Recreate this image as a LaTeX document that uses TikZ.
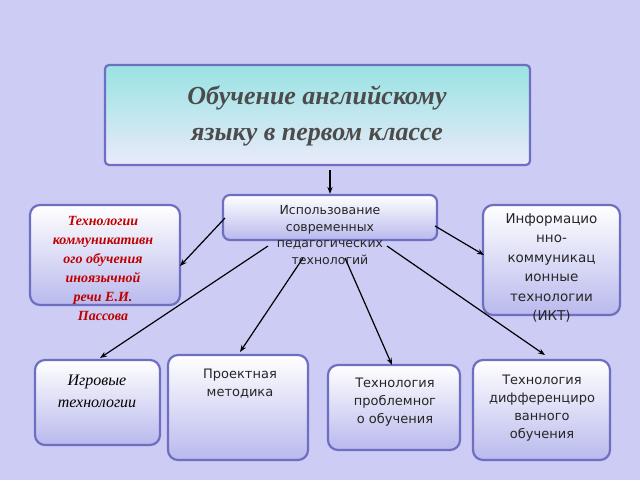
\documentclass[tikz,border=0pt]{standalone}
\usepackage{fontspec}
\setsansfont{DejaVu Sans}
\setmainfont{Liberation Serif}
\usetikzlibrary{arrows.meta}
\definecolor{bg}{HTML}{CCCCF5}
\definecolor{bd}{HTML}{6F6FC2}
\definecolor{lav}{HTML}{B9B9EE}
\tikzset{x=1pt,y=-1pt,
box/.style={draw=bd,line width=2.2pt,rounded corners=10pt,top color=white,bottom color=lav},
sans/.style={font=\sffamily\fontsize{13}{18}\selectfont,align=center,text=black!85},
arr/.style={-{Stealth[length=7pt]},line width=1.2pt}}
\begin{document}
\begin{tikzpicture}
\fill[bg] (0,0) rectangle (640,480);
\useasboundingbox (0,0) rectangle (640,480);
\node[draw=bd,line width=2.2pt,rounded corners=4pt,top color=teal!55!cyan!40,bottom color=white!70!lav,minimum width=425pt,minimum height=100pt] (t) at (317.5,115) {};
\node[font=\bfseries\itshape\fontsize{26}{36}\selectfont,align=center,text=black!70] at (317,116) {Обучение английскому\\языку в первом классе};
\node[box,rounded corners=7pt,minimum width=214pt,minimum height=45pt] (c) at (330,217.5) {};
\node[sans,font=\sffamily\fontsize{12.5}{16.5}\selectfont] at (330,235) {Использование\\современных\\педагогических\\технологий};
\node[box,minimum width=150pt,minimum height=100pt] (l) at (105,255) {};
\node[font=\itshape\bfseries\fontsize{14}{19}\selectfont,align=center,text=red!75!black] at (103,268) {Технологии\\коммуникативн\\ого обучения\\иноязычной\\речи Е.И.\\Пассова};
\node[box,minimum width=137pt,minimum height=110pt] (r) at (551.5,260) {};
\node[sans,font=\sffamily\fontsize{13.5}{19.5}\selectfont] at (551.5,268) {Информацио\\нно-\\коммуникац\\ионные\\технологии\\(ИКТ)};
\node[box,minimum width=125pt,minimum height=85pt] (b1) at (97.5,402.5) {};
\node[font=\itshape\fontsize{16}{22}\selectfont,align=center] at (97,391) {Игровые\\технологии};
\node[box,minimum width=140pt,minimum height=105pt] (b2) at (238,407.5) {};
\node[sans] at (240,384) {Проектная\\методика};
\node[box,minimum width=132pt,minimum height=85pt] (b3) at (394,407.5) {};
\node[sans] at (395,402) {Технология\\проблемног\\о обучения};
\node[box,minimum width=137pt,minimum height=100pt] (b4) at (541.5,410) {};
\node[sans] at (542,408) {Технология\\дифференциро\\ванного\\обучения};
\coordinate (c1) at (330,170);
\draw[arr] (c1) -- (c.north);
\draw[arr] (225,218) -- (180,266);
\draw[arr] (435,226) -- (484,255);
\draw[arr] (268,246) -- (100,358);
\draw[arr] (303,258) -- (240,352);
\draw[arr] (345,258) -- (392,365);
\draw[arr] (387,246) -- (545,355);
\end{tikzpicture}
\end{document}
